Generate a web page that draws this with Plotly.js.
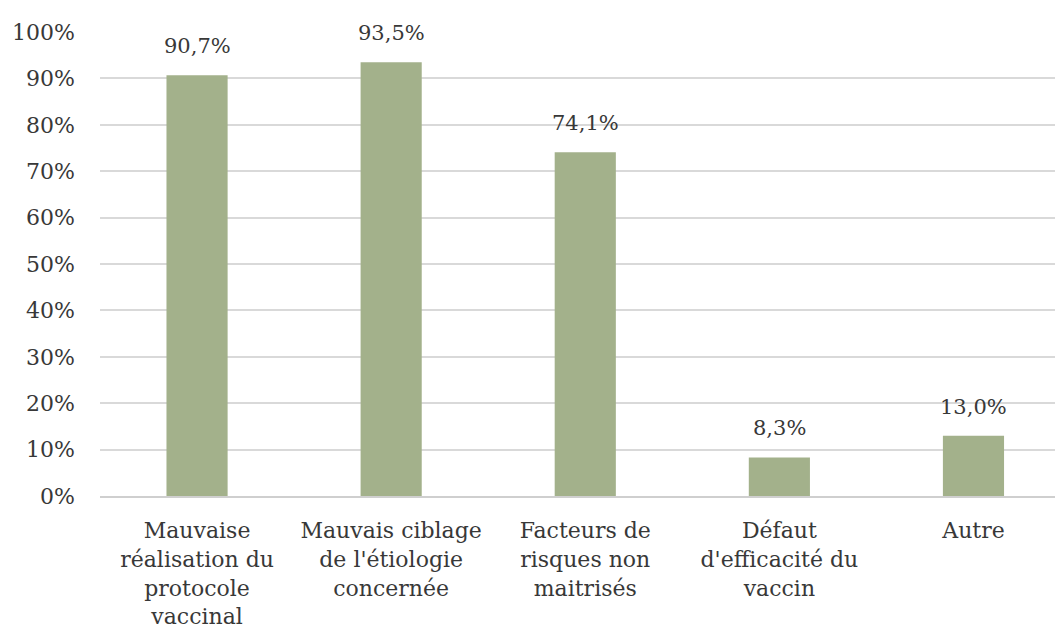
<!DOCTYPE html>
<html>
<head>
<meta charset="utf-8">
<script src="https://cdn.plot.ly/plotly-3.0.1.min.js"></script>
<style>html,body{margin:0;padding:0;background:#fff;}#chart{width:1055px;height:634px;}</style>
</head>
<body>
<div id="chart"></div>
<script>
const categories = [
  "Mauvaise<br>réalisation du<br>protocole<br>vaccinal",
  "Mauvais ciblage<br>de l'étiologie<br>concernée",
  "Facteurs de<br>risques non<br>maitrisés",
  "Défaut<br>d'efficacité du<br>vaccin",
  "Autre"
];
const values = [90.7, 93.5, 74.1, 8.3, 13.0];
const valueLabels = ["90,7%", "93,5%", "74,1%", "8,3%", "13,0%"];
const yTickVals = [0, 10, 20, 30, 40, 50, 60, 70, 80, 90, 100];
const yTickText = ["0%", "10%", "20%", "30%", "40%", "50%", "60%", "70%", "80%", "90%", "100%"];

const font = "DejaVu Serif, serif";
const textColor = "#383838";

const trace = {
  type: "bar",
  x: categories,
  y: values,
  width: 0.315,
  marker: {color: "#a3b18b"},
  hoverinfo: "none"
};

const annotations = categories.map((c, i) => ({
  x: c, y: values[i], xref: "x", yref: "y",
  text: valueLabels[i], showarrow: false,
  yanchor: "bottom", yshift: 15,
  font: {family: font, size: 21, color: textColor}
}));

const layout = {
  width: 1055, height: 634,
  margin: {l: 100, r: 0, t: 32, b: 138, pad: 0},
  paper_bgcolor: "#ffffff", plot_bgcolor: "#ffffff",
  showlegend: false,
  font: {family: font, size: 22, color: textColor},
  xaxis: {
    type: "category",
    range: [-0.5, 4.42],
    showgrid: false, zeroline: false,
    showline: true, linecolor: "#cfcfcf", linewidth: 2,
    ticks: "", tickangle: 0,
    ticklabelstandoff: 14,
    tickfont: {family: font, size: 22, color: textColor}
  },
  yaxis: {
    range: [0, 100],
    tickvals: yTickVals, ticktext: yTickText,
    showgrid: true, gridcolor: "#d9d9d9", gridwidth: 2,
    zeroline: false, showline: false, ticks: "",
    ticklabelstandoff: 24,
    tickfont: {family: font, size: 22, color: textColor}
  },
  annotations: annotations
};

Plotly.newPlot("chart", [trace], layout, {displayModeBar: false, staticPlot: true});
</script>
</body>
</html>
